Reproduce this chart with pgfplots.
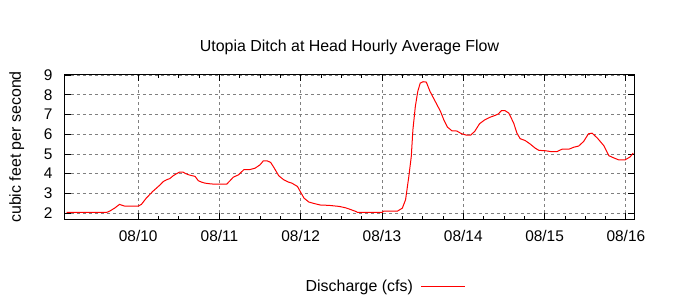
\documentclass[border=0pt]{standalone}
\usepackage{fontspec}
\setmainfont{Liberation Sans}
\usepackage{pgfplots}
\pgfplotsset{compat=1.18}
\begin{document}
\fontsize{16}{19}\selectfont
\begin{tikzpicture}
\begin{axis}[
  name=ax,
  scale only axis, width=569bp, height=144bp,
  xmin=0.1, xmax=7.1, ymin=1.7, ymax=9,
  xtick={1,2,3,4,5,6,7},
  xticklabels={08/10,08/11,08/12,08/13,08/14,08/15,08/16},
  minor x tick num=3,
  ytick={2,3,4,5,6,7,8,9},
  /pgf/number format/assume math mode=true,
  tick label style={font=\fontsize{15.5}{18}\selectfont},
  xticklabel style={yshift=-6bp},
  yticklabel style={xshift=-7bp},
  major tick length=6bp, minor tick length=3bp,
  tick style={black, line width=0.8bp},
  axis line style={black, line width=1bp},
  grid=major,
  major grid style={gray, dash pattern=on 3bp off 3bp, line width=0.8bp},
  title={Utopia Ditch at Head Hourly Average Flow},
  title style={font=\fontsize{16}{19}\selectfont, at={(axis description cs:0.5,1)}, anchor=center, yshift=22bp},
  ylabel={cubic feet per second},
  ylabel style={font=\fontsize{16}{19}\selectfont, at={(axis description cs:-0.062,0.5)}, anchor=south},
  legend plot pos=right,
  legend style={at={(axis description cs:0.562,-0.472)}, anchor=center, draw=none, fill=none,
    font=\fontsize{16}{19}\selectfont, legend cell align=right, column sep=6bp},
  legend image code/.code={\draw[red, line width=1bp] (0bp,0bp) -- (44bp,0bp);},
]
\addplot[red, line width=1bp] coordinates {
(0.12,2.03)(0.61,2.03)(0.65,2.10)(0.71,2.25)(0.77,2.44)(0.82,2.37)(0.84,2.35)(1.0,2.35)(1.04,2.44)(1.10,2.76)(1.18,3.10)(1.27,3.43)(1.31,3.60)(1.35,3.69)(1.39,3.75)(1.43,3.89)(1.47,3.99)(1.51,4.08)(1.55,4.08)(1.59,3.99)(1.63,3.93)(1.70,3.86)(1.74,3.64)(1.78,3.57)(1.82,3.52)(1.87,3.49)
(1.926,3.47)(2.09,3.47)(2.13,3.64)(2.17,3.82)(2.235,3.94)(2.30,4.20)(2.38,4.21)(2.44,4.28)(2.50,4.45)(2.54,4.65)(2.585,4.65)(2.63,4.57)(2.67,4.31)(2.73,3.89)(2.79,3.69)(2.85,3.57)(2.89,3.52)(2.96,3.35)(3.0,3.05)(3.04,2.76)(3.10,2.56)(3.16,2.49)(3.24,2.41)(3.35,2.39)(3.47,2.34)(3.55,2.27)(3.60,2.20)
(3.68,2.08)(3.70,2.03)(4.0,2.03)(4.02,2.10)(4.19,2.10)(4.25,2.25)(4.29,2.68)(4.33,3.86)(4.36,4.87)(4.38,6.22)(4.41,7.41)(4.44,8.17)(4.47,8.59)(4.505,8.66)(4.545,8.64)(4.59,8.17)(4.655,7.66)(4.72,7.15)(4.76,6.73)(4.805,6.36)(4.86,6.17)(4.92,6.16)(4.98,6.02)(5.04,5.95)(5.09,5.95)(5.14,6.14)(5.20,6.53)(5.265,6.73)
(5.33,6.86)(5.39,6.95)(5.43,7.02)(5.47,7.20)(5.51,7.20)(5.56,7.07)(5.62,6.56)(5.66,6.05)(5.70,5.77)(5.76,5.68)(5.82,5.51)(5.885,5.29)(5.93,5.18)(6.01,5.16)(6.09,5.11)(6.15,5.11)(6.215,5.24)(6.30,5.24)(6.36,5.34)(6.42,5.40)(6.48,5.63)(6.54,6.02)(6.585,6.05)(6.65,5.80)(6.73,5.41)(6.79,4.91)(6.85,4.80)(6.91,4.70)(6.99,4.70)(7.05,4.84)(7.09,5.04)
};
\addlegendentry{Discharge (cfs)}
\end{axis}
\pgfresetboundingbox
\path[use as bounding box] ([shift={(-65bp,-81bp)}]ax.south west) rectangle ([shift={(66bp,75bp)}]ax.north east);
\end{tikzpicture}
\end{document}
